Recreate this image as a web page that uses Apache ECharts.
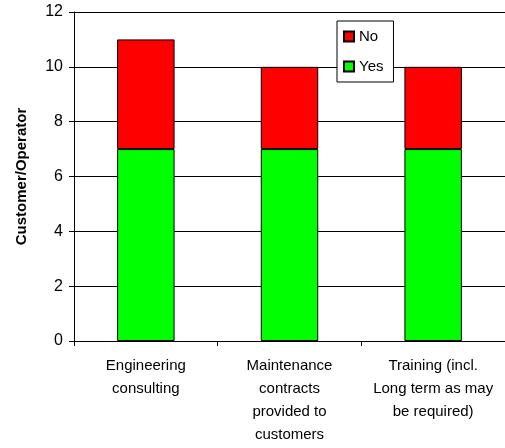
<!DOCTYPE html>
<html>
<head>
<meta charset="utf-8">
<script src="https://cdn.jsdelivr.net/npm/echarts@6/dist/echarts.min.js"></script>
<style>
    html, body { margin: 0; padding: 0; background: #fff; }
    #chart { width: 505px; height: 448px; }
</style>
</head>
<body>
<div id="chart"></div>
<script>
    var categories = [
        'Engineering\nconsulting',
        'Maintenance\ncontracts\nprovided to\ncustomers',
        'Training (incl.\nLong term as may\nbe required)'
    ];
    var yesValues = [7, 7, 7];
    var noValues = [4, 3, 3];
    var yTicks = { min: 0, max: 12, interval: 2 };

    var myChart = echarts.init(document.getElementById('chart'));

    var font = '"Liberation Sans", Arial, sans-serif';

    var option = {
        animation: false,
        backgroundColor: '#fff',
        textStyle: { fontFamily: font, color: '#000' },
        legend: {
            orient: 'vertical',
            left: 337,
            top: 21,
            data: ['No', 'Yes'],
            itemWidth: 10,
            itemHeight: 10,
            itemGap: 15,
            padding: [8, 10, 8, 6],
            backgroundColor: '#fff',
            borderColor: '#000',
            borderWidth: 1,
            borderRadius: 0,
            icon: 'rect',
            textStyle: { fontFamily: font, fontSize: 15, color: '#000' }
        },
        grid: {
            left: 74,
            right: -2,
            top: 12,
            bottom: 107
        },
        xAxis: {
            type: 'category',
            data: categories,
            axisLine: { lineStyle: { color: '#000', width: 1 } },
            axisTick: { show: true, length: 5, lineStyle: { color: '#000' } },
            axisLabel: {
                interval: 0,
                fontFamily: font,
                fontSize: 15,
                color: '#000',
                lineHeight: 23,
                margin: 13
            }
        },
        yAxis: {
            type: 'value',
            min: yTicks.min,
            max: yTicks.max,
            interval: yTicks.interval,
            name: 'Customer/Operator',
            nameLocation: 'middle',
            nameGap: 45,
            nameTextStyle: { fontFamily: font, fontSize: 15, fontWeight: 'bold', color: '#000' },
            axisLine: { show: true, lineStyle: { color: '#000', width: 1 } },
            axisTick: { show: true, length: 5, lineStyle: { color: '#000' } },
            axisLabel: { fontFamily: font, fontSize: 16, color: '#000', margin: 11 },
            splitLine: { show: true, lineStyle: { color: '#000', width: 1 } }
        },
        series: [
            {
                name: 'Yes',
                type: 'bar',
                stack: 'total',
                barWidth: '40%',
                data: yesValues,
                itemStyle: { color: '#00ff00', borderColor: '#000', borderWidth: 1 }
            },
            {
                name: 'No',
                type: 'bar',
                stack: 'total',
                barWidth: '40%',
                data: noValues,
                itemStyle: { color: '#ff0000', borderColor: '#000', borderWidth: 1 }
            }
        ]
    };

    myChart.setOption(option);
</script>
</body>
</html>
